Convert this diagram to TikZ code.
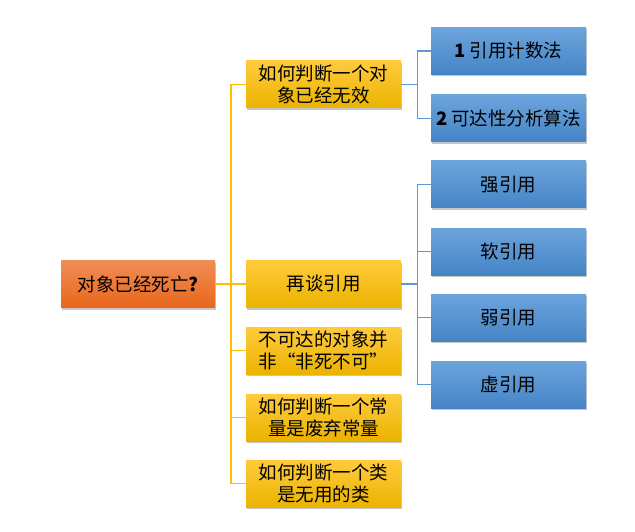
\documentclass[tikz,border=0pt]{standalone}
\usepackage{fontspec}
\newfontfamily\cjk{Noto Sans CJK SC}
\usetikzlibrary{shadows}
\definecolor{rootTop}{HTML}{F08D55}
\definecolor{rootBot}{HTML}{E8671C}
\definecolor{ylwTop}{HTML}{FFCB3C}
\definecolor{ylwBot}{HTML}{EBB300}
\definecolor{bluTop}{HTML}{6CA4DC}
\definecolor{bluBot}{HTML}{4584C6}
\definecolor{ylwLine}{HTML}{FFC000}
\definecolor{bluLine}{HTML}{5B9BD5}
\tikzset{
  box/.style={minimum width=155pt, minimum height=47pt, inner sep=0pt, align=center,
    font=\cjk\fontsize{18.5}{22.5}\selectfont,
    drop shadow={opacity=0.45, shadow xshift=1pt, shadow yshift=-2pt}},
  rootbox/.style={box, top color=rootTop, bottom color=rootBot, minimum width=154pt},
  ylwbox/.style={box, top color=ylwTop, bottom color=ylwBot},
  blubox/.style={box, top color=bluTop, bottom color=bluBot},
  ylwlink/.style={draw=ylwLine, line width=1.5pt},
  blulink/.style={draw=bluLine, line width=1.4pt}
}

\begin{document}
\begin{tikzpicture}[x=1pt, y=-1pt]
		%%%%% START %%%%%
		\useasboundingbox (0, 0) rectangle (635, 532);
		
		\node[rootbox] (root) at (138, 284) {对象已经死亡\textbf{?}};
		
		\node[ylwbox] (judge) at (323.5, 84.5) {如何判断一个对\\象已经无效};
		\node[ylwbox] (refs) at (323.5, 284) {再谈引用};
		\node[ylwbox] (unreach) at (323.5, 350.5) {不可达的对象并\\非“非死不可”};
		\node[ylwbox] (const) at (323.5, 417.5) {如何判断一个常\\量是废弃常量};
		\node[ylwbox] (klass) at (323.5, 483.5) {如何判断一个类\\是无用的类};
		
		\node[blubox] (count) at (508.5, 51) {\textbf{1} 引用计数法};
		\node[blubox] (reach) at (508.5, 118.5) {\textbf{2} 可达性分析算法};
		\node[blubox] (strong) at (508.5, 184.5) {强引用};
		\node[blubox] (soft) at (508.5, 251.5) {软引用};
		\node[blubox] (weak) at (508.5, 317.5) {弱引用};
		\node[blubox] (phantom) at (508.5, 384.5) {虚引用};
		
		\foreach \n in {judge, refs, unreach, const, klass}
			\draw[ylwlink] (root.east) -- ++(16, 0) |- (\n.west);
		
		\foreach \n in {count, reach}
			\draw[blulink] (judge.east) -- ++(16, 0) |- (\n.west);
		\foreach \n in {strong, soft, weak, phantom}
			\draw[blulink] (refs.east) -- ++(16, 0) |- (\n.west);
		
		%%%%% END %%%%%
	\end{tikzpicture}
\end{document}
